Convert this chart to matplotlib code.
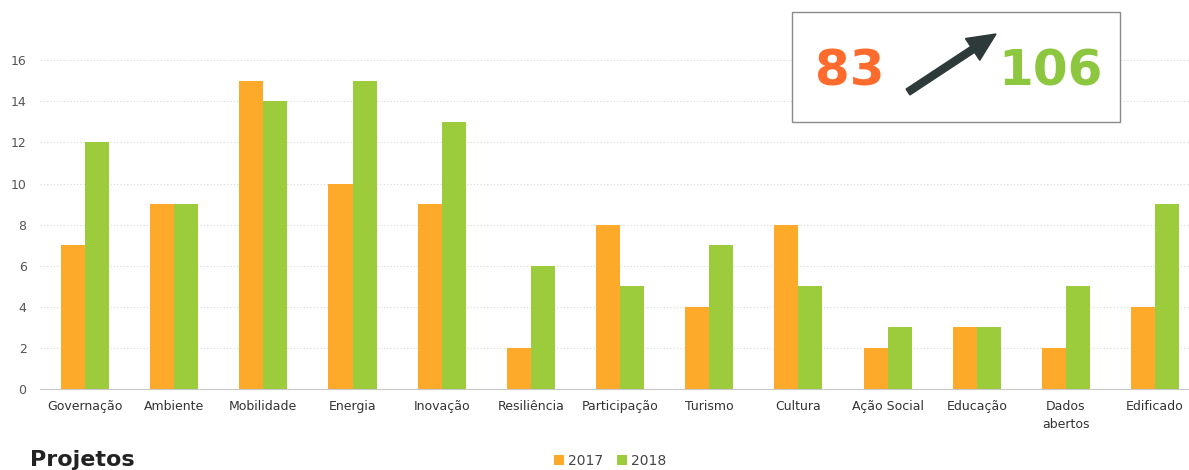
import numpy as np
import matplotlib.pyplot as plt
from matplotlib.patches import Rectangle, FancyArrow

categories = ["Governação", "Ambiente", "Mobilidade", "Energia", "Inovação",
              "Resiliência", "Participação", "Turismo", "Cultura", "Ação Social",
              "Educação", "Dados\nabertos", "Edificado"]
v2017 = [7, 9, 15, 10, 9, 2, 8, 4, 8, 2, 3, 2, 4]
v2018 = [12, 9, 14, 15, 13, 6, 5, 7, 5, 3, 3, 5, 9]
yticks = [0, 2, 4, 6, 8, 10, 12, 14, 16]
total_2017 = "83"
total_2018 = "106"

orange = "#FDA92A"
green = "#9CCB3B"

fig = plt.figure(figsize=(11.89, 4.70), dpi=100)
ax = fig.add_axes([0.034, 0.172, 0.975, 0.70])

x = np.arange(len(categories))
w = 0.27
ax.bar(x - w / 2, v2017, w, color=orange, label="2017", zorder=2)
ax.bar(x + w / 2, v2018, w, color=green, label="2018", zorder=2)

ax.set_xlim(-0.5, len(categories) - 0.5)
ax.set_ylim(0, 16)
ax.set_yticks(yticks)
ax.yaxis.grid(True, linestyle=(0, (1, 2)), color="#d8d8d8", linewidth=0.8, zorder=0)
for s in ["top", "right", "left"]:
    ax.spines[s].set_visible(False)
ax.spines["bottom"].set_color("#c8c8c8")
ax.tick_params(axis="y", length=0, labelsize=9, labelcolor="#555555", pad=10)
ax.tick_params(axis="x", length=0, pad=8)
ax.set_xticks(x)
ax.set_xticklabels(categories, fontsize=9, color="#333333", linespacing=1.5)

# overlay in pixel coordinates for the summary box
ov = fig.add_axes([0, 0, 1, 1], facecolor="none")
ov.set_axis_off()
ov.set_xlim(0, 1189)
ov.set_ylim(470, 0)
ov.add_patch(Rectangle((792, 12), 328, 110, facecolor="white",
                       edgecolor="#8a8a8a", linewidth=1))
ov.text(850, 72, total_2017, color="#FF6B2C", fontsize=36,
        fontweight="bold", ha="center", va="center")
ov.text(1050, 72, total_2018, color="#8DC63F", fontsize=36,
        fontweight="bold", ha="center", va="center")
ov.add_patch(FancyArrow(908, 92, 88, -58, width=7, head_width=26, head_length=28,
                        length_includes_head=True, color="#2E3A3A"))

fig.text(30 / 1189, 1 - 460 / 470, "Projetos", fontsize=16, fontweight="bold",
         color="#222222", va="center")
fig.legend(loc="center", bbox_to_anchor=(610 / 1189, 1 - 461 / 470), ncol=2,
           frameon=False, fontsize=10, handlelength=0.7, handleheight=0.7,
           handletextpad=0.3, columnspacing=1.0, labelcolor="#444444")

fig.savefig("out.png", dpi=100)
